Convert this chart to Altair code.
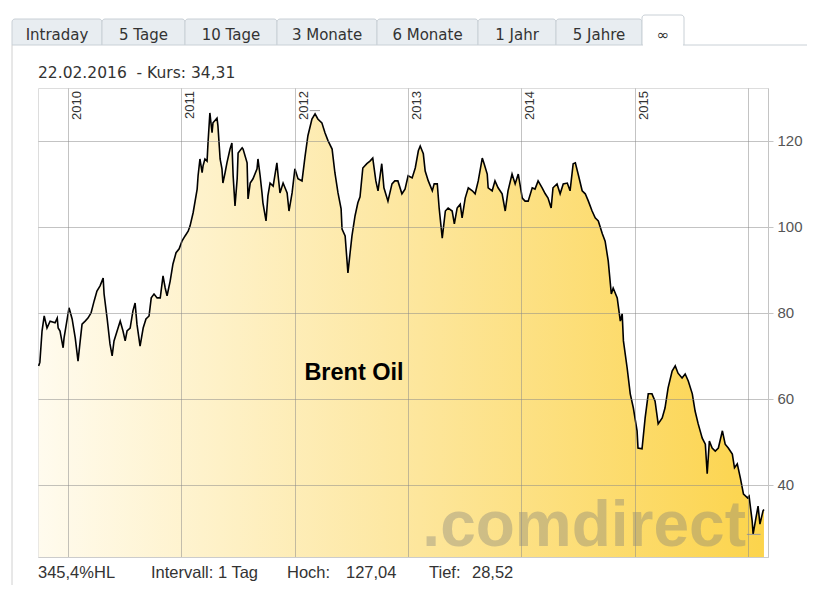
import altair as alt
import pandas as pd

# ---------------- data ----------------
DATES = [
    "2009-09-28", "2009-10-02", "2009-10-09", "2009-10-16", "2009-10-25", "2009-11-04", "2009-11-20",
    "2009-11-27", "2009-11-30", "2009-12-06", "2009-12-16", "2009-12-19",
    "2010-01-04", "2010-01-14", "2010-01-24", "2010-02-02", "2010-02-09", "2010-02-15", "2010-02-25",
    "2010-03-06", "2010-03-16", "2010-03-26", "2010-04-04", "2010-04-14", "2010-04-24", "2010-04-27",
    "2010-05-07", "2010-05-16", "2010-05-23", "2010-05-29", "2010-06-08", "2010-06-18", "2010-06-27",
    "2010-07-04", "2010-07-10", "2010-07-20", "2010-07-29", "2010-08-05", "2010-08-11", "2010-08-21",
    "2010-08-31", "2010-09-09", "2010-09-19", "2010-09-26", "2010-10-05", "2010-10-15", "2010-10-25",
    "2010-11-03", "2010-11-10", "2010-11-16", "2010-11-26", "2010-12-05", "2010-12-15", "2010-12-25",
    "2011-01-03", "2011-01-13", "2011-01-23", "2011-01-29", "2011-02-08", "2011-02-21", "2011-02-24",
    "2011-03-02", "2011-03-09", "2011-03-12", "2011-03-18", "2011-03-25", "2011-03-28", "2011-04-03",
    "2011-04-10", "2011-04-13", "2011-04-26", "2011-04-29", "2011-05-06", "2011-05-12", "2011-05-15",
    "2011-05-22", "2011-05-28", "2011-06-07", "2011-06-13", "2011-06-17", "2011-06-23", "2011-06-30",
    "2011-07-03", "2011-07-16", "2011-07-19", "2011-08-01", "2011-08-04", "2011-08-11", "2011-08-20",
    "2011-09-02", "2011-09-05", "2011-09-12", "2011-09-18", "2011-09-21", "2011-10-01", "2011-10-07",
    "2011-10-14", "2011-10-24", "2011-11-05", "2011-11-09", "2011-11-15", "2011-11-25", "2011-12-08",
    "2011-12-14", "2011-12-24",
    "2012-01-02", "2012-01-12", "2012-01-25", "2012-02-04", "2012-02-13", "2012-02-26", "2012-03-07",
    "2012-03-16", "2012-03-29", "2012-04-08", "2012-04-18", "2012-05-01", "2012-05-10", "2012-05-20",
    "2012-05-30", "2012-06-02", "2012-06-12", "2012-06-21", "2012-06-28", "2012-07-04", "2012-07-14",
    "2012-07-23", "2012-07-30", "2012-08-08", "2012-08-21", "2012-08-31", "2012-09-09", "2012-09-19",
    "2012-09-26", "2012-10-08", "2012-10-15", "2012-10-28", "2012-11-10", "2012-11-19", "2012-11-29",
    "2012-12-12", "2012-12-22",
    "2013-01-01", "2013-01-14", "2013-01-24", "2013-02-03", "2013-02-09", "2013-02-19", "2013-02-25",
    "2013-03-07", "2013-03-20", "2013-03-26", "2013-04-05", "2013-04-11", "2013-04-21", "2013-05-01",
    "2013-05-10", "2013-05-23", "2013-05-30", "2013-06-08", "2013-06-18", "2013-06-24", "2013-07-04",
    "2013-07-14", "2013-07-27", "2013-08-05", "2013-08-15", "2013-08-28", "2013-09-03", "2013-09-13",
    "2013-09-16", "2013-09-29", "2013-10-08", "2013-10-18", "2013-10-31", "2013-11-10", "2013-11-19",
    "2013-12-02", "2013-12-12", "2013-12-22",
    "2014-01-04", "2014-01-13", "2014-01-23", "2014-02-05", "2014-02-14", "2014-02-24", "2014-03-09",
    "2014-03-19", "2014-03-28", "2014-04-07", "2014-04-13", "2014-04-26", "2014-05-06", "2014-05-16",
    "2014-05-29", "2014-06-07", "2014-06-17", "2014-06-24", "2014-07-03", "2014-07-16", "2014-07-26",
    "2014-08-05", "2014-08-17", "2014-08-27", "2014-09-06", "2014-09-19", "2014-09-28", "2014-10-08",
    "2014-10-18", "2014-10-24", "2014-11-06", "2014-11-16", "2014-11-22", "2014-11-26", "2014-12-08",
    "2014-12-18", "2014-12-28",
    "2015-01-09", "2015-01-12", "2015-01-25", "2015-02-04", "2015-02-14", "2015-02-26", "2015-03-08",
    "2015-03-18", "2015-03-31", "2015-04-09", "2015-04-19", "2015-05-02", "2015-05-12", "2015-05-21",
    "2015-06-03", "2015-06-13", "2015-06-23", "2015-07-06", "2015-07-15", "2015-07-25", "2015-08-07",
    "2015-08-17", "2015-08-23", "2015-08-30", "2015-09-08", "2015-09-18", "2015-09-28", "2015-10-11",
    "2015-10-20", "2015-10-30", "2015-11-12", "2015-11-19", "2015-11-28", "2015-12-08", "2015-12-18",
    "2015-12-31",
    "2016-01-05", "2016-01-15", "2016-01-18", "2016-01-27", "2016-02-03", "2016-02-09", "2016-02-19",
    "2016-02-22",
]
PRICES = [
    67.7, 68.5, 75.8, 79.3, 76.5, 78.1, 77.7, 78.8, 76.5, 75.8, 71.9, 74.2,
    81.2, 78.6, 74.2, 68.8, 73.5, 77.4, 78.1, 78.8, 80.0, 82.8, 85.1, 86.3, 88.1, 84.4,
    78.6, 72.8, 70.0, 73.5, 75.8, 78.1, 75.8, 73.5, 75.8, 76.5, 80.5, 82.3, 77.4, 72.3,
    76.5, 78.6, 79.3, 83.5, 84.4, 83.5, 83.5, 88.6, 85.8, 84.0, 87.4, 91.4, 94.0, 94.9,
    96.7, 97.9, 99.0, 100.2, 103.3, 108.8, 111.9, 115.8, 112.6, 114.2, 115.8, 115.3, 119.5, 126.5,
    121.9, 124.2, 125.3, 123.5, 115.8, 113.5, 110.2, 112.6, 114.9, 118.1, 119.5, 111.9, 104.9, 111.2,
    117.2, 118.4, 118.1, 114.9, 106.5, 110.2, 111.2, 113.5, 115.8, 111.9, 107.9, 105.6, 101.4, 107.2,
    110.2, 109.5, 114.9, 111.9, 107.9, 110.2, 107.9, 103.7, 107.9,
    113.5, 111.2, 110.7, 116.5, 121.2, 125.1, 126.3, 125.1, 124.2, 121.9, 120.0, 118.1, 112.6, 107.9,
    104.2, 99.5, 97.9, 89.3, 94.0, 97.9, 102.6, 105.6, 107.0, 113.7, 114.7, 115.3, 116.0, 110.7,
    108.4, 114.7, 109.1, 106.0, 110.0, 110.7, 110.7, 107.7, 108.8,
    111.9, 111.4, 113.7, 117.7, 118.8, 117.0, 113.0, 110.7, 108.4, 110.0, 110.0, 104.4, 97.4, 103.7,
    104.4, 103.7, 100.7, 104.4, 105.3, 102.1, 106.7, 109.1, 108.4, 107.7, 110.7, 116.0, 114.7, 112.3,
    109.1, 108.4, 110.7, 109.1, 107.7, 103.7, 108.4, 112.3, 110.0, 112.3,
    106.7, 106.0, 106.0, 109.1, 108.8, 110.7, 109.1, 107.7, 106.7, 104.4, 109.1, 110.0, 107.7, 110.0,
    110.2, 108.4, 114.7, 114.9, 112.3, 108.4, 107.7, 106.0, 103.7, 102.1, 101.4, 98.4, 96.7, 92.1,
    84.4, 85.8, 83.5, 78.1, 79.8, 73.5, 67.2, 61.2, 57.9,
    52.6, 48.6, 48.4, 55.6, 61.2, 61.2, 59.5, 54.2, 55.6, 57.9, 62.6, 66.5, 67.7, 66.0,
    64.9, 65.8, 64.2, 61.2, 57.2, 54.2, 50.9, 49.5, 42.6, 50.2, 48.6, 47.9, 48.6, 52.6,
    49.5, 48.6, 47.2, 44.0, 44.9, 41.6, 37.9, 37.0,
    37.4, 31.6, 28.6, 32.3, 35.1, 30.9, 34.0, 34.31,
]

YEAR_LABELS = ["2010", "2011", "2012", "2013", "2014", "2015"]
Y_TICKS = [40, 60, 80, 100, 120]
TAB_LABELS = ["Intraday", "5 Tage", "10 Tage", "3 Monate", "6 Monate", "1 Jahr", "5 Jahre", "∞"]
HIGH_VALUE = 127.04
LOW_VALUE = 28.52
HIGH_SPAN = ["2012-02-19", "2012-03-23"]
LOW_SPAN = ["2015-12-29", "2016-02-11"]
HEADER = "22.02.2016\u00a0\u00a0- Kurs: 34,31"
SERIES_NAME = "Brent Oil"
FOOTER = ["345,4%HL", "Intervall: 1 Tag", "Hoch:", "127,04", "Tief:", "28,52"]
WATERMARK = ".comdirect"

# ---------------- layout constants (pixels, relative to plot origin) ----------------
W, H = 730, 469
TAB_EDGES = [-26, 64, 147, 239, 339, 440, 518, 604, 646]
FOOTER_X = [0, 113, 249, 308, 391, 434]

df = pd.DataFrame({"date": pd.to_datetime(DATES), "price": PRICES})
years_df = pd.DataFrame({"date": pd.to_datetime([f"{y}-01-01" for y in YEAR_LABELS]), "label": YEAR_LABELS})
hl_df = pd.DataFrame({
    "start": pd.to_datetime([HIGH_SPAN[0], LOW_SPAN[0]]),
    "end": pd.to_datetime([HIGH_SPAN[1], LOW_SPAN[1]]),
    "value": [HIGH_VALUE, LOW_VALUE],
})
one = pd.DataFrame({"k": [0]})

x_scale = alt.Scale(domain=[alt.DateTime(year=2009, month=9, date=26),
                            alt.DateTime(year=2016, month=3, date=6)])
y_scale = alt.Scale(domain=[23.26, 132.3], zero=False, nice=False)

x_axis = alt.Axis(values=[alt.DateTime(year=y, month=1, date=1) for y in range(2010, 2017)],
                  grid=True, gridColor="#888888", gridOpacity=0.5, labels=False, ticks=False,
                  domain=True, domainColor="#cccccc", title=None, zindex=1)
y_axis = alt.Axis(orient="right", values=Y_TICKS, grid=True, gridColor="#888888", gridOpacity=0.5,
                  tickColor="#c4c4c4", tickSize=5, domain=True, domainColor="#c4c4c4",
                  labelFont="Liberation Sans", labelFontSize=15, labelColor="#555555",
                  labelPadding=4, title=None, zindex=1)

gradient = alt.Gradient(gradient="linear",
                        stops=[alt.GradientStop(color="#fffbee", offset=0),
                               alt.GradientStop(color="#fde7a0", offset=0.5),
                               alt.GradientStop(color="#fcd44c", offset=1)],
                        x1=0, x2=1, y1=0, y2=0)

base = alt.Chart(df)
area = base.mark_area(color=gradient, clip=True).encode(
    x=alt.X("date:T", scale=x_scale, axis=x_axis),
    y=alt.Y("price:Q", scale=y_scale, axis=y_axis),
)
line = base.mark_line(color="black", strokeWidth=1.6, clip=True).encode(
    x="date:T", y="price:Q"
)
hl = alt.Chart(hl_df).mark_rule(color="#999999", strokeWidth=1).encode(
    x="start:T", x2="end:T", y="value:Q"
)

watermark = alt.Chart(one).mark_text(
    text=WATERMARK, font="Liberation Sans", fontWeight="bold", fontSize=64,
    color="#7a7a7a", opacity=0.35, align="right", baseline="alphabetic"
).encode(x=alt.value(708), y=alt.value(458))

year_text = alt.Chart(years_df).mark_text(
    angle=270, align="right", baseline="top", font="Liberation Sans", fontSize=13,
    color="#333333", dx=-3, dy=3
).encode(x="date:T", y=alt.value(0), text="label:N")

name_text = alt.Chart(one).mark_text(
    text=SERIES_NAME, font="Liberation Sans", fontWeight="bold", fontSize=23.5, color="black",
    align="center", baseline="middle"
).encode(x=alt.value(316), y=alt.value(285))

header_text = alt.Chart(one).mark_text(
    text=HEADER, font="DejaVu Sans", fontSize=15.5, color="#333333", align="left", baseline="middle"
).encode(x=alt.value(0), y=alt.value(-15))

footer_layers = [
    alt.Chart(one).mark_text(text=t, font="Liberation Sans", fontSize=16.5, color="#333333",
                             align="left", baseline="middle").encode(x=alt.value(fx), y=alt.value(485))
    for t, fx in zip(FOOTER, FOOTER_X)
]

tab_layers = []
for i, label in enumerate(TAB_LABELS):
    active = i == len(TAB_LABELS) - 1
    x0, x1 = TAB_EDGES[i], TAB_EDGES[i + 1]
    top = -73 if active else -69
    tab_layers.append(
        alt.Chart(one).mark_rect(fill="white" if active else "#e8edf1", stroke="#c9d0d6",
                                 strokeWidth=1, cornerRadiusTopLeft=3, cornerRadiusTopRight=3)
        .encode(x=alt.value(x0), x2=alt.value(x1), y=alt.value(top), y2=alt.value(-43))
    )
    tab_layers.append(
        alt.Chart(one).mark_text(text=label, font="DejaVu Sans", fontSize=15, color="#333333",
                                 align="center", baseline="middle")
        .encode(x=alt.value((x0 + x1) / 2), y=alt.value(-53))
    )
# white cover for the active tab's bottom edge, panel top line and left border
tab_layers.append(alt.Chart(one).mark_rule(color="white", strokeWidth=2).encode(
    x=alt.value(TAB_EDGES[-2] + 1), x2=alt.value(TAB_EDGES[-1] - 1), y=alt.value(-43)))
tab_layers.append(alt.Chart(one).mark_rule(color="#c9d0d6", strokeWidth=1).encode(
    x=alt.value(TAB_EDGES[-1]), x2=alt.value(W + 60), y=alt.value(-43)))
tab_layers.append(alt.Chart(one).mark_rule(color="#d0d0d0", strokeWidth=1).encode(
    x=alt.value(-26), y=alt.value(-43), y2=alt.value(H + 60)))

chart = alt.layer(
    area, watermark, line, hl, year_text, name_text, header_text, *footer_layers, *tab_layers
).properties(
    width=W, height=H,
    padding={"left": 30, "top": 80, "right": 39, "bottom": 28},
    autosize=alt.AutoSizeParams(type="none"),
).configure_view(stroke=None).configure(background="white")

chart.save("out.html", embed_options={"renderer": "svg", "actions": False})
